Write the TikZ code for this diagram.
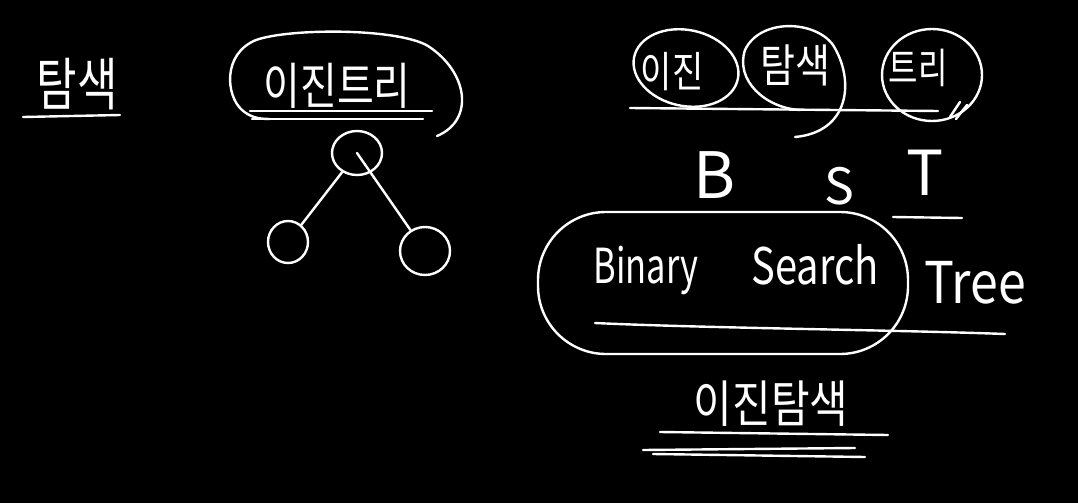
\documentclass[tikz,border=0pt]{standalone}
\usepackage{fontspec}
\setmainfont{Noto Sans CJK KR}
\usetikzlibrary{shapes.geometric}
\begin{document}
\begin{tikzpicture}[x=1pt,y=-1pt,
  ink/.style={draw=white,line width=2.4pt,line cap=round,line join=round},
  txt/.style={text=white,inner sep=0pt},
  kr/.style={txt,font=\fontsize{#1}{#1}\selectfont},
  circ/.style={ink,ellipse,minimum width=#1,minimum height=#1,inner sep=0pt}]
\fill[black] (0,0) rectangle (1078,503);
\useasboundingbox (0,0) rectangle (1078,503);

% left: 탐색
\node[kr=44] (tamsaek) at (77,84) {\scalebox{1}[1.3]{탐색}};
\coordinate (u1a) at (23,117); \coordinate (u1b) at (120,115);
\draw[ink] (u1a) -- (u1b);

% 이진트리 with loop
\node[kr=40] (ijinteuri) at (337,86) {\scalebox{1}[1.25]{이진트리}};
\coordinate (u2a) at (250,111); \coordinate (u2b) at (432,111);
\coordinate (u2c) at (252,119); \coordinate (u2d) at (423,119);
\draw[ink] (u2a) -- (u2b);
\draw[ink] (u2c) -- (u2d);
\draw[ink] (437,136) .. controls (475,120) and (468,72) .. (428,46)
  .. controls (398,28) and (290,28) .. (256,40)
  .. controls (222,54) and (226,96) .. (242,110)
  .. controls (250,117) and (258,119) .. (270,119);

% tree
\node[circ=44pt,minimum width=50pt] (root) at (357,153) {};
\node[circ=42pt,minimum width=40pt] (left) at (288,242) {};
\node[circ=48pt,minimum width=50pt] (right) at (425,251) {};
\draw[ink] (root) -- (left);
\draw[ink] (root.center) -- (right);

% top right: 이진 탐색 트리
\node[kr=34] (ijin) at (672,72) {\scalebox{1}[1.25]{이진}};
\node[kr=38] (tam) at (795,65) {\scalebox{1}[1.2]{탐색}};
\node[kr=32] (teuri) at (918,68) {\scalebox{1}[1.3]{트리}};
\draw[ink,rotate around={-12:(686,68)}] (686,68) ellipse (53pt and 38pt);
\draw[ink] (795,137) .. controls (850,132) and (855,80) .. (833,45)
  .. controls (815,20) and (760,18) .. (745,50)
  .. controls (735,80) and (765,108) .. (800,110);
\draw[ink] (932,75) ellipse (50pt and 46pt);
\coordinate (u3a) at (630,108); \coordinate (u3b) at (938,111);
\draw[ink] (u3a) -- (u3b);
\draw[ink] (950,117) -- (960,102);
\draw[ink] (956,119) -- (967,105);

% B S T
\node[kr=64] (B) at (715,175) {B};
\node[kr=50] (S) at (839,186) {S};
\node[kr=62] (T) at (925,173) {T};
\coordinate (u4a) at (893,217); \coordinate (u4b) at (962,218);
\draw[ink] (u4a) -- (u4b);

% Binary Search Tree
\node[kr=42] (binary) at (646,270) {\scalebox{0.82}[1.15]{Binary}};
\node[kr=42] (search) at (815,265) {\scalebox{0.95}[1.2]{Search}};
\node[kr=50] (tree) at (975,283) {\scalebox{1}[1.15]{Tree}};
\draw[ink,rounded corners=68pt] (538,212) rectangle (908,354);
\coordinate (u5a) at (595,323); \coordinate (u5b) at (1005,334);
\draw[ink] (u5a) .. controls (700,328) and (900,330) .. (u5b);

% 이진탐색
\node[kr=42] (ijintam) at (771,404) {\scalebox{1}[1.2]{이진탐색}};
\coordinate (u6a) at (660,432); \coordinate (u6b) at (888,435);
\coordinate (u6c) at (643,450); \coordinate (u6d) at (855,448);
\coordinate (u6e) at (653,454); \coordinate (u6f) at (865,457);
\draw[ink] (u6a) -- (u6b);
\draw[ink] (u6c) -- (u6d);
\draw[ink] (u6e) -- (u6f);
\end{tikzpicture}
\end{document}
